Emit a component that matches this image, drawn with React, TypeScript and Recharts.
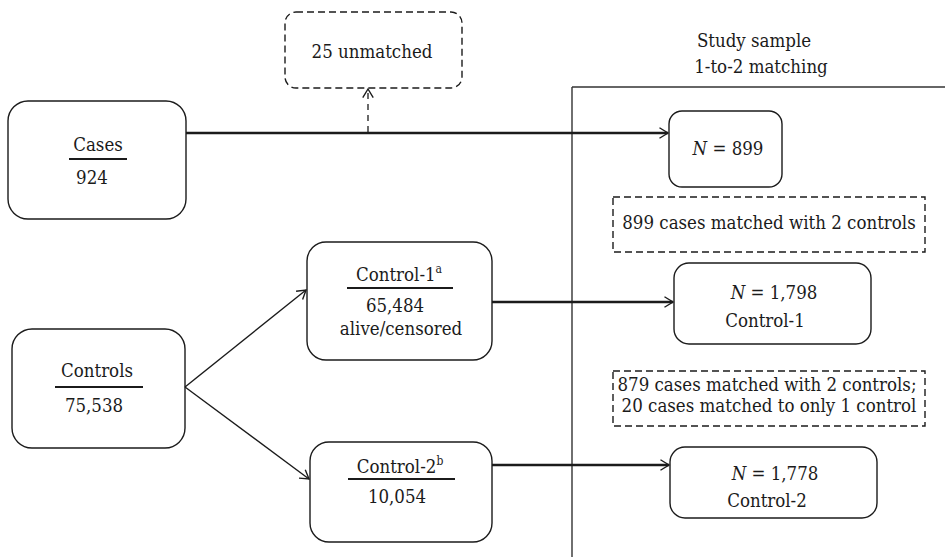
import React from 'react';
import { ScatterChart, Scatter, XAxis, YAxis, ReferenceArea, ReferenceLine } from 'recharts';

const W = 945;
const H = 557;
const FONT = 'DejaVu Serif Condensed, DejaVu Serif, serif';
const FS = 18.5;
const INK = '#1b1b1b';

// boxes of the flow, in page pixels (x runs 0..945, y runs 0..557 downwards)
const solidBoxes = [
  { id: 'cases', x1: 8, y1: 101, x2: 186, y2: 219, r: 20 },
  { id: 'controls', x1: 12, y1: 329, x2: 185, y2: 448, r: 20 },
  { id: 'control1', x1: 307, y1: 242, x2: 492, y2: 360, r: 19 },
  { id: 'control2', x1: 310, y1: 442, x2: 492, y2: 542, r: 19 },
  { id: 'n899', x1: 669, y1: 111, x2: 782, y2: 187, r: 13 },
  { id: 'n1798', x1: 674, y1: 263, x2: 871, y2: 344, r: 15 },
  { id: 'n1778', x1: 670, y1: 447, x2: 877, y2: 518, r: 15 },
];

const dashedBoxes = [
  { id: 'unmatched', x1: 285, y1: 12, x2: 462, y2: 88, r: 11 },
  { id: 'note1', x1: 613, y1: 197, x2: 925, y2: 252, r: 0 },
  { id: 'note2', x1: 613, y1: 371, x2: 925, y2: 426, r: 0 },
];

// study sample frame (open on the right and bottom)
const frame = [
  [{ x: 572, y: 87 }, { x: 945, y: 87 }],
  [{ x: 572, y: 87 }, { x: 572, y: 557 }],
];

const arrows = [
  { id: 'toUnmatched', from: { x: 368, y: 132 }, to: { x: 368, y: 89 }, w: 1.3, dash: '6 5' },
  { id: 'cases', from: { x: 186, y: 133 }, to: { x: 668, y: 133 }, w: 2.4, dash: '' },
  { id: 'toC1', from: { x: 185, y: 387 }, to: { x: 306, y: 290 }, w: 1.4, dash: '' },
  { id: 'toC2', from: { x: 185, y: 387 }, to: { x: 309, y: 479 }, w: 1.4, dash: '' },
  { id: 'c1', from: { x: 492, y: 302 }, to: { x: 673, y: 302 }, w: 2.4, dash: '' },
  { id: 'c2', from: { x: 492, y: 465 }, to: { x: 669, y: 465 }, w: 2.4, dash: '' },
];

// rules under the box titles
const underlines = [
  [{ x: 69, y: 159 }, { x: 127, y: 159 }],
  [{ x: 55, y: 387 }, { x: 143, y: 387 }],
  [{ x: 347, y: 288 }, { x: 453, y: 288 }],
  [{ x: 348, y: 479 }, { x: 455, y: 479 }],
];

// text: x = centre, y = baseline of the first line
const labels = [
  { x: 372, y: 58, text: '25 unmatched' },
  { x: 98, y: 151, text: 'Cases' },
  { x: 92, y: 184, text: '924' },
  { x: 97, y: 377, text: 'Controls' },
  { x: 94, y: 412, text: '75,538' },
  { x: 399, y: 281, text: 'Control-1', sup: 'a' },
  { x: 395, y: 312, text: '65,484' },
  { x: 401, y: 335, text: 'alive/censored' },
  { x: 400, y: 473, text: 'Control-2', sup: 'b' },
  { x: 397, y: 503, text: '10,054' },
  { x: 754, y: 47, text: 'Study sample' },
  { x: 761, y: 73, text: '1-to-2 matching' },
  { x: 728, y: 155, text: ' = 899', italic: 'N' },
  { x: 769, y: 229, text: '899 cases matched with 2 controls' },
  { x: 774, y: 299, text: ' = 1,798', italic: 'N' },
  { x: 765, y: 327, text: 'Control-1' },
  { x: 767, y: 391, text: '879 cases matched with 2 controls;', line2: '20 cases matched to only 1 control' },
  { x: 775, y: 480, text: ' = 1,778', italic: 'N' },
  { x: 767, y: 507, text: 'Control-2' },
];

const boxShape = (r: number, dash: string) => (p: any) => (
  <rect
    x={p.x}
    y={p.y}
    width={p.width}
    height={p.height}
    rx={r}
    ry={r}
    fill="#fff"
    stroke={INK}
    strokeWidth={1.4}
    strokeDasharray={dash || undefined}
  />
);

const arrowShape = (w: number, dash: string) => (p: any) => {
  const { x1, y1, x2, y2 } = p;
  const ang = Math.atan2(y2 - y1, x2 - x1);
  const len = 10;
  const spread = 0.55;
  const ax = x2 - len * Math.cos(ang - spread);
  const ay = y2 - len * Math.sin(ang - spread);
  const bx = x2 - len * Math.cos(ang + spread);
  const by = y2 - len * Math.sin(ang + spread);
  return (
    <g>
      <line x1={x1} y1={y1} x2={x2} y2={y2} stroke={INK} strokeWidth={w} strokeDasharray={dash || undefined} />
      <polyline
        points={`${ax},${ay} ${x2},${y2} ${bx},${by}`}
        fill="none"
        stroke={INK}
        strokeWidth={1.4}
      />
    </g>
  );
};

const labelShape = (props: any) => {
  const d = props.payload ?? props;
  return (
    <text
      x={props.cx}
      y={props.cy}
      textAnchor="middle"
      fontFamily={FONT}
      fontSize={FS}
      fontStretch="condensed"
      fill={INK}
    >
      {d.italic ? <tspan fontStyle="italic">{d.italic}</tspan> : null}
      <tspan>{d.text}</tspan>
      {d.sup ? (
        <tspan fontSize={12} dy={-8}>
          {d.sup}
        </tspan>
      ) : null}
      {d.line2 ? (
        <tspan x={props.cx + 2} dy={21}>
          {d.line2}
        </tspan>
      ) : null}
    </text>
  );
};

export default function App() {
  return (
    <div style={{ position: 'absolute', left: 0, top: 0, width: W, height: H, background: '#fff' }}>
      <ScatterChart width={W} height={H} margin={{ top: 0, right: 0, bottom: 0, left: 0 }}>
        <XAxis type="number" dataKey="x" domain={[0, W]} hide allowDataOverflow />
        <YAxis type="number" dataKey="y" domain={[0, H]} reversed hide width={0} allowDataOverflow />
        {frame.map((seg, i) => (
          <ReferenceLine key={`f${i}`} segment={seg} stroke="#333" strokeWidth={1.4} ifOverflow="visible" />
        ))}
        {solidBoxes.map((b) => (
          <ReferenceArea
            key={b.id}
            x1={b.x1}
            x2={b.x2}
            y1={b.y1}
            y2={b.y2}
            ifOverflow="visible"
            shape={boxShape(b.r, '')}
          />
        ))}
        {dashedBoxes.map((b) => (
          <ReferenceArea
            key={b.id}
            x1={b.x1}
            x2={b.x2}
            y1={b.y1}
            y2={b.y2}
            ifOverflow="visible"
            shape={boxShape(b.r, '7 4')}
          />
        ))}
        {arrows.map((a) => (
          <ReferenceLine
            key={a.id}
            segment={[a.from, a.to]}
            ifOverflow="visible"
            shape={arrowShape(a.w, a.dash)}
          />
        ))}
        {underlines.map((seg, i) => (
          <ReferenceLine key={`u${i}`} segment={seg} stroke={INK} strokeWidth={2.2} ifOverflow="visible" />
        ))}
        <Scatter data={labels} shape={labelShape} isAnimationActive={false} />
      </ScatterChart>
    </div>
  );
}
